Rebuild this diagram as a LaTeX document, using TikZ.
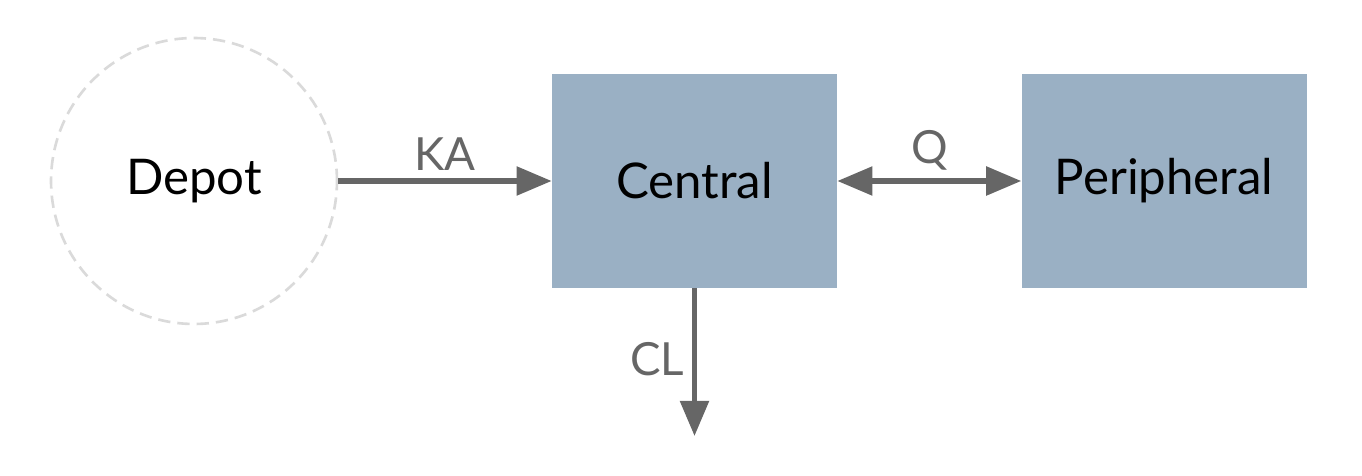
\documentclass[tikz,border=0pt]{standalone}
\usepackage{fontspec}
\setmainfont{Lato}
\usetikzlibrary{positioning,arrows.meta}

\definecolor{boxblue}{HTML}{9AB0C4}
\definecolor{arrowgray}{HTML}{666666}
\definecolor{depotgray}{HTML}{DADADA}

\begin{document}
\begin{tikzpicture}[x=0.02cm, y=-0.02cm,
    compartment/.style={fill=boxblue, draw=none, minimum width=5.7cm, minimum height=4.28cm,
      font=\fontsize{28}{30}\selectfont},
    depotnode/.style={circle, draw=depotgray, line width=1.5pt, dash pattern=on 7pt off 4pt,
      minimum size=5.72cm, font=\fontsize{28}{30}\selectfont},
    flow/.style={draw=arrowgray, line width=3pt, -{Triangle[length=20pt, width=16pt]}},
    rate/.style={text=arrowgray, font=\fontsize{26}{28}\selectfont}]
      \useasboundingbox (0,0) rectangle (1362,476);
      % compartments
      \node[depotnode] (depot) at (194,181) {Depot};
      \node[compartment] (central) at (694.5,181) {Central};
      \node[compartment, right=3.68cm of central] (peripheral) {Peripheral};
      \coordinate (elim) at (694.5,436);

      % rates
      \draw[flow] (depot.east) -- node[rate, above=1pt] {KA} (central.west);
      \draw[flow, {Triangle[length=20pt, width=16pt]}-{Triangle[length=20pt, width=16pt]}]
        (central.east) -- node[rate, above=1pt] {Q} (peripheral.west);
      \draw[flow] (central.south) -- node[rate, left=1pt, pos=0.48] {CL} (elim);

    \end{tikzpicture}
\end{document}
